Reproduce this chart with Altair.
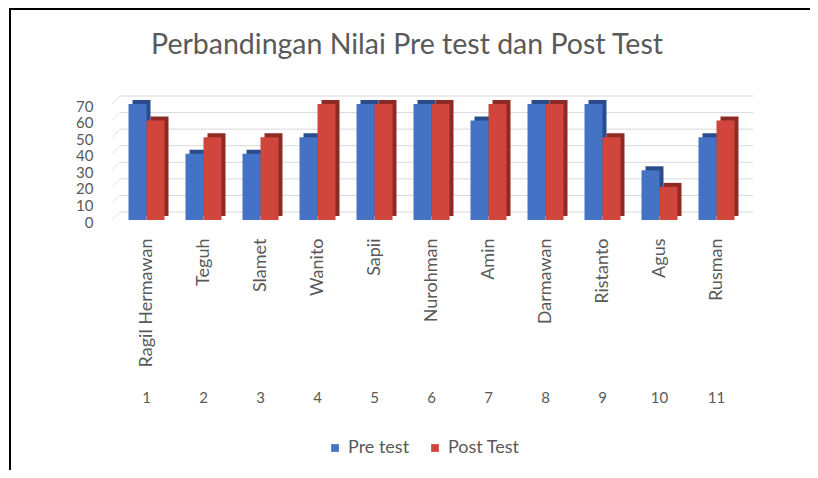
import altair as alt
import pandas as pd

title_text = ["Perbandingan Nilai Pre test dan Post Test"]
names = ["Ragil Hermawan", "Teguh", "Slamet", "Wanito", "Sapii", "Nurohman",
         "Amin", "Darmawan", "Ristanto", "Agus", "Rusman"]
nums = [1, 2, 3, 4, 5, 6, 7, 8, 9, 10, 11]
pre_test = [70, 40, 40, 50, 70, 70, 60, 70, 70, 30, 50]
post_test = [60, 50, 50, 70, 70, 70, 70, 70, 50, 20, 60]
y_ticks = [0, 10, 20, 30, 40, 50, 60, 70]
series = ["Pre test", "Post Test"]

front_colors = ["#4472C4", "#D0463C"]
side_colors = ["#2B4C8C", "#8E2A24"]
FONT = "Lato"
GRAY = "#595959"

rows = []
for n, k, a, b in zip(names, nums, pre_test, post_test):
    rows.append({"name": n, "num": str(k), "series": series[0], "value": a})
    rows.append({"name": n, "num": str(k), "series": series[1], "value": b})
df = pd.DataFrame(rows)

W, H = 627, 116

x_enc = alt.X("name:N", sort=names,
              scale=alt.Scale(paddingInner=0.36, paddingOuter=0.18),
              axis=alt.Axis(title=None, labelAngle=-90, labelAlign="right",
                            labelBaseline="middle", labelPadding=18,
                            labelFontSize=18, labelFont=FONT, labelColor=GRAY,
                            ticks=False, domain=False, grid=False,
                            labelLimit=300))
y_scale = alt.Scale(domain=[0, 70], nice=False, zero=True)
y_axis = alt.Axis(title=None, values=y_ticks, ticks=False, domain=False,
                  grid=False, labelPadding=25, labelFontSize=15, labelOffset=2,
                  labelOverlap=False, labelFont=FONT, labelColor=GRAY)
y_enc = alt.Y("value:Q", scale=y_scale, axis=y_axis)

base = alt.Chart(df)

grid_df = pd.DataFrame({"v": y_ticks})
grid = alt.Chart(grid_df).mark_rule(color="#D9D9D9", strokeWidth=1, yOffset=-8).encode(
    y=alt.Y("v:Q", scale=y_scale, axis=y_axis), x=alt.value(2), x2=alt.value(635))
diag = alt.Chart(grid_df).mark_rule(color="#E3E3E3", strokeWidth=1, y2Offset=-8).encode(
    y=alt.Y("v:Q", scale=y_scale, axis=y_axis), y2="v:Q",
    x=alt.value(-6), x2=alt.value(2))

def bar_layers(sname, idx, off):
    d = base.transform_filter(alt.datum.series == sname)
    side = d.mark_bar(width=18, xOffset=off + 4, yOffset=-4, y2Offset=-4,
                      color=side_colors[idx]).encode(x=x_enc, y=y_enc)
    front = d.mark_bar(width=18, xOffset=off).encode(
        x=x_enc, y=y_enc,
        color=alt.Color("series:N",
                        scale=alt.Scale(domain=series, range=front_colors),
                        legend=alt.Legend(title=None, orient="none", direction="horizontal",
                                          legendX=208, legendY=335, symbolType="square",
                                          symbolSize=60, labelFontSize=18, labelFont=FONT,
                                          labelColor=GRAY, columnPadding=16, padding=0,
                                          symbolStrokeWidth=0)))
    return side, front

pre_side, pre_front = bar_layers(series[0], 0, -9)
post_side, post_front = bar_layers(series[1], 1, 9)

numbers = base.transform_filter(alt.datum.series == series[0]).mark_text(
    font=FONT, fontSize=15, color=GRAY, baseline="middle").encode(
    x=x_enc, y=alt.value(294), text="num:N")

title = alt.Chart(alt.Data(values=[{"t": title_text[0]}])).mark_text(
    font=FONT, fontSize=28.5, color=GRAY, align="center", baseline="middle").encode(
    x=alt.value(289), y=alt.value(-59), text="t:N")

frame_data = alt.Data(values=[{"a": 1}])
frame_left = alt.Chart(frame_data).mark_rule(color="black", strokeWidth=2).encode(
    x=alt.value(-108), y=alt.value(-96), y2=alt.value(400))
frame_top = alt.Chart(frame_data).mark_rule(color="black", strokeWidth=2).encode(
    x=alt.value(-109), x2=alt.value(700), y=alt.value(-95))

chart = alt.layer(grid, diag, pre_side, pre_front, post_side, post_front, numbers,
                  title, frame_left, frame_top).properties(
    width=W, height=H,
    autosize=alt.AutoSizeParams(type="none"),
    padding={"left": 110, "top": 96, "right": 65, "bottom": 250},
).configure_view(stroke=None)

chart.save("out.html", embed_options={"renderer": "svg", "actions": False})
